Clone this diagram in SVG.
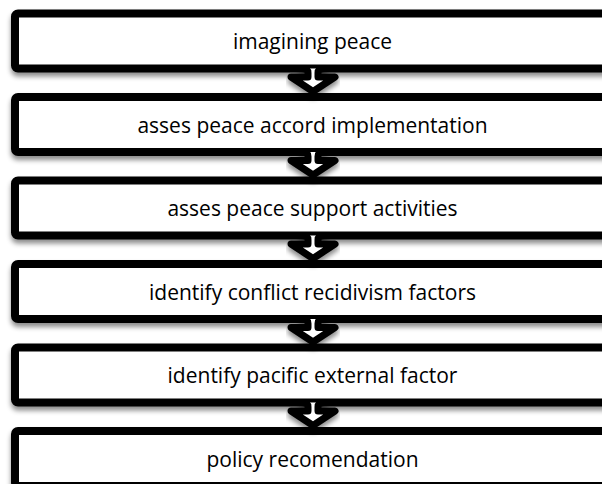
<svg xmlns="http://www.w3.org/2000/svg" width="602" height="484" viewBox="0 0 602 484">
<defs>
<filter id="sh" x="-10%" y="-20%" width="120%" height="160%">
<feDropShadow dx="0" dy="4" stdDeviation="2.5" flood-color="#000" flood-opacity="0.45"/>
</filter>
<style>
.box{fill:#fff;stroke:#000;stroke-width:8;stroke-linejoin:round}
.arr{fill:#fff;stroke:#000;stroke-width:7;stroke-linejoin:round;stroke-linecap:round}
.t{font-family:"Open Sans","Noto Sans","Liberation Sans",sans-serif;font-size:21px;fill:#000;text-anchor:middle}
</style>
</defs>
<rect width="602" height="484" fill="#fff"/>
<g id="n1" filter="url(#sh)"><rect class="box" x="15" y="13.5" width="600" height="55" rx="3"/></g>
<g id="n2" filter="url(#sh)"><rect class="box" x="15" y="97" width="600" height="55" rx="3"/></g>
<g id="n3" filter="url(#sh)"><rect class="box" x="15" y="180.5" width="600" height="55" rx="3"/></g>
<g id="n4" filter="url(#sh)"><rect class="box" x="15" y="264" width="600" height="55" rx="3"/></g>
<g id="n5" filter="url(#sh)"><rect class="box" x="15" y="347.5" width="600" height="55" rx="3"/></g>
<g id="n6" filter="url(#sh)"><rect class="box" x="15" y="431" width="600" height="55" rx="3"/></g>
<g id="connectors" filter="url(#sh)">
<path class="arr" d="M302,68.5 Q308,68.5 308,73 L308,77 L291,77 L313,91.5 L335,77 L318,77 L318,73 Q318,68.5 324,68.5"/>
<path class="arr" d="M302,152 Q308,152 308,156.5 L308,160.5 L291,160.5 L313,175 L335,160.5 L318,160.5 L318,156.5 Q318,152 324,152"/>
<path class="arr" d="M302,235.5 Q308,235.5 308,240 L308,244 L291,244 L313,258.5 L335,244 L318,244 L318,240 Q318,235.5 324,235.5"/>
<path class="arr" d="M302,319 Q308,319 308,323.5 L308,327.5 L291,327.5 L313,342 L335,327.5 L318,327.5 L318,323.5 Q318,319 324,319"/>
<path class="arr" d="M302,402.5 Q308,402.5 308,407 L308,411 L291,411 L313,425.5 L335,411 L318,411 L318,407 Q318,402.5 324,402.5"/>
</g>
<g id="labels">
<text class="t" x="312.5" y="49">imagining peace</text>
<text class="t" x="312.5" y="132.5">asses peace accord implementation</text>
<text class="t" x="312.5" y="216">asses peace support activities</text>
<text class="t" x="312.5" y="299.5">identify conflict recidivism factors</text>
<text class="t" x="312.5" y="383">identify pacific external factor</text>
<text class="t" x="312.5" y="466.5">policy recomendation</text>
</g>
</svg>
